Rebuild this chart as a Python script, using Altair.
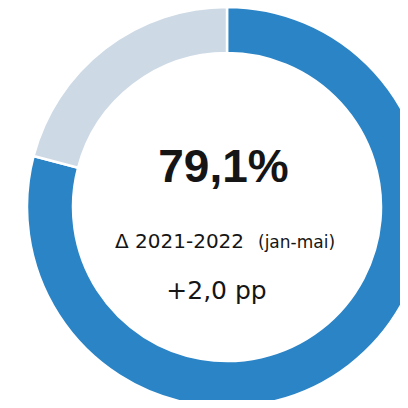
import altair as alt
import pandas as pd

categories = ["Realizado", "Restante"]
values = [79.1, 20.9]
colors = ["#2A84C6", "#CDD9E5"]
main_label = ["79,1%"]
delta_label = ["Δ 2021-2022"]
period_label = ["(jan-mai)"]
change_label = ["+2,0 pp"]

W, H = 392, 392
cx, cy = 219, 199

df = pd.DataFrame({"cat": categories, "value": values, "order": list(range(len(categories)))})

donut = alt.Chart(df).mark_arc(
    outerRadius=200, innerRadius=154, stroke="white", strokeWidth=2.5
).encode(
    theta=alt.Theta("value:Q", stack=True),
    color=alt.Color("cat:N", scale=alt.Scale(domain=categories, range=colors), legend=None),
    order=alt.Order("order:Q"),
    x=alt.value(cx),
    y=alt.value(cy),
)

def text_layer(labels, x, y, size, weight="normal", align="center", font="DejaVu Sans"):
    return alt.Chart(pd.DataFrame({"t": labels})).mark_text(
        align=align, baseline="alphabetic", fontSize=size, fontWeight=weight,
        font=font, color="#151515"
    ).encode(x=alt.value(x), y=alt.value(y), text="t:N")

t1 = text_layer(main_label, 215.5, 174, 46, "bold", font="Liberation Sans")
t2 = text_layer(delta_label, 107, 240, 20, align="left")
t3 = text_layer(period_label, 250, 240, 17, align="left")
t4 = text_layer(change_label, 208.5, 291, 25)

chart = alt.layer(donut, t1, t2, t3, t4).properties(
    width=W, height=H, padding=0, autosize=alt.AutoSizeParams(type="none")
).configure_view(stroke=None)

chart.save("out.html", embed_options={"renderer": "svg", "actions": False})
